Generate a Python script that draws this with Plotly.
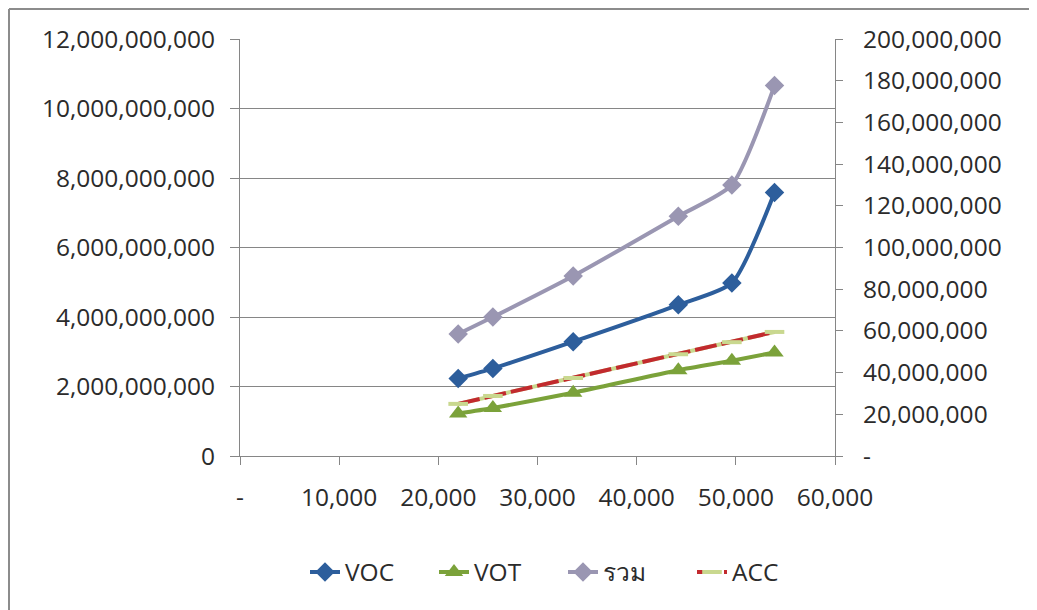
import plotly.graph_objects as go

# ---- data ----
x_vals = [22000, 25500, 33600, 44200, 49600, 53900]
voc = [2.23e9, 2.52e9, 3.29e9, 4.35e9, 4.98e9, 7.58e9]
vot = [1.22e9, 1.38e9, 1.82e9, 2.47e9, 2.74e9, 2.98e9]
total = [3.51e9, 4.00e9, 5.18e9, 6.90e9, 7.80e9, 10.66e9]
acc = [25.0e6, 28.8e6, 37.4e6, 48.8e6, 54.6e6, 59.5e6]

x_ticks = [0, 10000, 20000, 30000, 40000, 50000, 60000]
x_ticktext = ["-", "10,000", "20,000", "30,000", "40,000", "50,000", "60,000"]
y2_ticks = [0, 20e6, 40e6, 60e6, 80e6, 100e6, 120e6, 140e6, 160e6, 180e6, 200e6]
y2_ticktext = ["-", "20,000,000", "40,000,000", "60,000,000", "80,000,000", "100,000,000",
               "120,000,000", "140,000,000", "160,000,000", "180,000,000", "200,000,000"]

names = ["VOC", "VOT", "รวม", "ACC"]

# page is drawn with an 8px body offset; compensate in margins
OFF = 8
W, H = 1037, 610
PL, PR, PT, PB = 240, 835, 39, 456          # target plot area in page pixels
ML, MT = PL - OFF, PT - OFF
MR = W - (PR - OFF)
MB = H - (PB - OFF)
FONT = "Open Sans"
AX = "#868686"
TXT = "#2b2b2b"
FS = 24.5

fig = go.Figure()
fig.add_trace(go.Scatter(
    x=x_vals, y=voc, name=names[0], mode="lines+markers",
    line=dict(color="#2D5E9C", width=4, shape="spline", smoothing=0.6),
    marker=dict(symbol="diamond", size=15, color="#2D5E9C")))
fig.add_trace(go.Scatter(
    x=x_vals, y=vot, name=names[1], mode="lines+markers",
    line=dict(color="#7BA23A", width=4, shape="spline", smoothing=0.6),
    marker=dict(symbol="triangle-up", size=16, color="#7BA23A")))
fig.add_trace(go.Scatter(
    x=x_vals, y=total, name=names[2], mode="lines+markers",
    line=dict(color="#9A96B2", width=4, shape="spline", smoothing=0.6),
    marker=dict(symbol="diamond", size=15, color="#9A96B2")))
# ACC: pale green base line with red dashes on top
fig.add_trace(go.Scatter(
    x=x_vals, y=acc, name=names[3], mode="lines", yaxis="y2", showlegend=False,
    line=dict(color="#C9D88F", width=4), hoverinfo="skip"))
fig.add_trace(go.Scatter(
    x=x_vals, y=acc, name=names[3], mode="lines+markers", yaxis="y2",
    line=dict(color="#C22A2E", width=4, dash="22px,5px"),
    marker=dict(symbol="line-ew", size=14, line=dict(color="#C9D88F", width=4))))

pw = PR - PL
ph = PB - PT

def px_x(p):
    return (p - PL) / pw

def px_y(p):
    return (PB - p) / ph

shapes = [
    dict(type="line", xref="paper", yref="paper", x0=px_x(9), x1=px_x(9), y0=px_y(9), y1=px_y(630),
         line=dict(color="#8C8C8C", width=2)),
    dict(type="line", xref="paper", yref="paper", x0=px_x(9), x1=px_x(1060), y0=px_y(9), y1=px_y(9),
         line=dict(color="#8C8C8C", width=2)),
]

fig.update_layout(
    width=W, height=H,
    margin=dict(l=ML, r=MR, t=MT, b=MB),
    paper_bgcolor="white", plot_bgcolor="white",
    font=dict(family=FONT, size=FS, color=TXT),
    showlegend=True,
    legend=dict(orientation="h", x=px_x(305), xanchor="left", y=px_y(572), yanchor="middle",
                font=dict(family=FONT, size=FS, color=TXT),
                entrywidth=84, bgcolor="rgba(0,0,0,0)"),
    xaxis=dict(range=[0, 60000], tickvals=x_ticks, ticktext=x_ticktext,
               showline=True, linecolor=AX, linewidth=1, ticks="outside", tickcolor=AX,
               ticklen=8, showgrid=False, zeroline=False, ticklabelstandoff=12,
               tickfont=dict(family=FONT, size=FS, color=TXT)),
    yaxis=dict(range=[0, 12e9], dtick=2e9, tickformat=",d",
               showline=True, linecolor=AX, linewidth=1, ticks="outside", tickcolor=AX,
               ticklen=9, showgrid=True, gridcolor=AX, gridwidth=1, zeroline=False,
               ticklabelstandoff=10,
               tickfont=dict(family=FONT, size=FS, color=TXT)),
    yaxis2=dict(range=[0, 200e6], tickvals=y2_ticks, ticktext=y2_ticktext,
                overlaying="y", side="right", anchor="x",
                showline=True, linecolor=AX, linewidth=1, ticks="outside", tickcolor=AX,
                ticklen=7, showgrid=False, zeroline=False, ticklabelstandoff=15,
                tickfont=dict(family=FONT, size=FS, color=TXT)),
    shapes=shapes,
)

fig.write_html("out.html")
